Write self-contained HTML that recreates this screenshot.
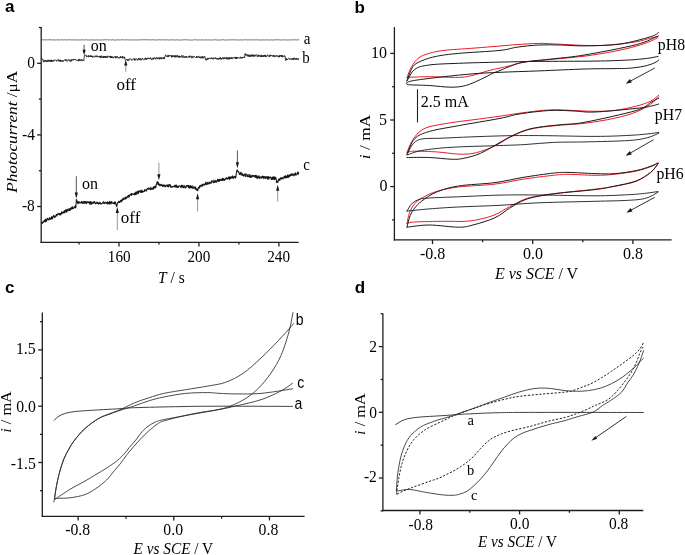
<!DOCTYPE html>
<html><head><meta charset="utf-8"><style>
html,body{margin:0;padding:0;background:#fff;}
body{width:685px;height:555px;overflow:hidden;position:relative;}
svg{position:absolute;left:0;top:0;will-change:transform;}
</style></head><body>
<svg width="685" height="555" viewBox="0 0 685 555">
<rect width="685" height="555" fill="#fff"/>
<g transform="translate(9.95,7.00) scale(1,1.0000)"><text x="-5.00" y="4.50" style="font-family:'Liberation Sans',sans-serif;font-size:17.00px;font-weight:bold">a</text></g>
<g transform="translate(359.95,6.65) scale(1,1.0000)"><text x="-5.38" y="6.00" style="font-family:'Liberation Sans',sans-serif;font-size:17.00px;font-weight:bold">b</text></g>
<g transform="translate(9.80,288.00) scale(1,1.0000)"><text x="-4.88" y="4.50" style="font-family:'Liberation Sans',sans-serif;font-size:17.00px;font-weight:bold">c</text></g>
<g transform="translate(359.75,286.80) scale(1,1.0000)"><text x="-5.00" y="6.00" style="font-family:'Liberation Sans',sans-serif;font-size:17.00px;font-weight:bold">d</text></g>
<g transform="translate(31.05,62.10) scale(1,1.1200)"><text x="-3.88" y="5.00" style="font-family:'Liberation Serif',serif;font-size:15.50px;font-weight:normal">0</text></g>
<g transform="translate(28.60,133.90) scale(1,1.1200)"><text x="-6.62" y="5.12" style="font-family:'Liberation Serif',serif;font-size:15.50px;font-weight:normal">-4</text></g>
<g transform="translate(28.30,205.60) scale(1,1.1200)"><text x="-6.38" y="5.00" style="font-family:'Liberation Serif',serif;font-size:15.50px;font-weight:normal">-8</text></g>
<g transform="translate(119.60,256.40) scale(1,1.1400)"><text x="-11.75" y="5.00" style="font-family:'Liberation Serif',serif;font-size:15.20px;font-weight:normal">160</text></g>
<g transform="translate(199.00,256.40) scale(1,1.1400)"><text x="-11.50" y="5.00" style="font-family:'Liberation Serif',serif;font-size:15.20px;font-weight:normal">200</text></g>
<g transform="translate(278.75,256.40) scale(1,1.1400)"><text x="-11.50" y="5.00" style="font-family:'Liberation Serif',serif;font-size:15.20px;font-weight:normal">240</text></g>
<g transform="translate(13.80,131.85) scale(1,1.1500) rotate(-90)"><text x="-53.00" y="3.62" style="font-family:'Liberation Serif',serif;font-size:15.00px;font-weight:normal"><tspan font-style="italic">Photocurrent</tspan> /&#956;A</text></g>
<g transform="translate(171.70,277.35) scale(1,1.1200)"><text x="-13.62" y="5.00" style="font-family:'Liberation Serif',serif;font-size:15.50px;font-weight:normal"><tspan font-style="italic">T</tspan> / s</text></g>
<g transform="translate(307.30,40.45) scale(1,1.1200)"><text x="-3.50" y="3.38" style="font-family:'Liberation Serif',serif;font-size:15.00px;font-weight:normal">a</text></g>
<g transform="translate(305.70,57.75) scale(1,1.1200)"><text x="-3.50" y="5.12" style="font-family:'Liberation Serif',serif;font-size:15.00px;font-weight:normal">b</text></g>
<g transform="translate(306.50,166.40) scale(1,1.1200)"><text x="-3.38" y="3.38" style="font-family:'Liberation Serif',serif;font-size:15.00px;font-weight:normal">c</text></g>
<g transform="translate(98.75,47.35) scale(1,1.0200)"><text x="-8.12" y="3.62" style="font-family:'Liberation Serif',serif;font-size:16.00px;font-weight:normal">on</text></g>
<g transform="translate(126.55,84.00) scale(1,0.9500)"><text x="-10.12" y="5.88" style="font-family:'Liberation Serif',serif;font-size:17.00px;font-weight:normal">off</text></g>
<g transform="translate(90.20,185.55) scale(1,1.0200)"><text x="-8.12" y="3.62" style="font-family:'Liberation Serif',serif;font-size:16.00px;font-weight:normal">on</text></g>
<g transform="translate(130.90,217.45) scale(1,1.0000)"><text x="-10.12" y="5.88" style="font-family:'Liberation Serif',serif;font-size:17.00px;font-weight:normal">off</text></g>
<g transform="translate(379.45,52.85) scale(1,1.0300)"><text x="-8.50" y="5.25" style="font-family:'Liberation Serif',serif;font-size:16.00px;font-weight:normal">10</text></g>
<g transform="translate(383.20,120.05) scale(1,1.0000)"><text x="-4.25" y="5.12" style="font-family:'Liberation Serif',serif;font-size:16.00px;font-weight:normal">5</text></g>
<g transform="translate(383.50,185.65) scale(1,1.0300)"><text x="-4.00" y="5.25" style="font-family:'Liberation Serif',serif;font-size:16.00px;font-weight:normal">0</text></g>
<g transform="translate(432.50,253.80) scale(1,1.0500)"><text x="-12.62" y="5.25" style="font-family:'Liberation Serif',serif;font-size:16.00px;font-weight:normal">-0.8</text></g>
<g transform="translate(532.95,253.85) scale(1,1.0500)"><text x="-10.00" y="5.25" style="font-family:'Liberation Serif',serif;font-size:16.00px;font-weight:normal">0.0</text></g>
<g transform="translate(632.95,253.85) scale(1,1.0500)"><text x="-10.00" y="5.25" style="font-family:'Liberation Serif',serif;font-size:16.00px;font-weight:normal">0.8</text></g>
<g transform="translate(365.35,136.50) scale(1,1.1200) rotate(-90)"><text x="-20.38" y="5.00" style="font-family:'Liberation Serif',serif;font-size:15.60px;font-weight:normal"><tspan font-style="italic">i</tspan> / mA</text></g>
<g transform="translate(536.25,273.40) scale(1,1.0300)"><text x="-41.38" y="5.12" style="font-family:'Liberation Serif',serif;font-size:16.00px;font-weight:normal"><tspan font-style="italic">E vs SCE</tspan> / V</text></g>
<g transform="translate(445.15,101.85) scale(1,1.0000)"><text x="-24.38" y="5.12" style="font-family:'Liberation Serif',serif;font-size:16.00px;font-weight:normal">2.5 mA</text></g>
<g transform="translate(671.23,46.10) scale(1,1.1200)"><text x="-13.38" y="3.50" style="font-family:'Liberation Serif',serif;font-size:15.80px;font-weight:normal">pH8</text></g>
<g transform="translate(668.35,116.20) scale(1,1.1200)"><text x="-13.50" y="3.38" style="font-family:'Liberation Serif',serif;font-size:15.80px;font-weight:normal">pH7</text></g>
<g transform="translate(669.90,175.40) scale(1,1.1200)"><text x="-13.50" y="3.50" style="font-family:'Liberation Serif',serif;font-size:15.80px;font-weight:normal">pH6</text></g>
<g transform="translate(26.35,348.55) scale(1,1.1200)"><text x="-10.38" y="5.12" style="font-family:'Liberation Serif',serif;font-size:15.80px;font-weight:normal">1.5</text></g>
<g transform="translate(26.10,405.90) scale(1,1.1200)"><text x="-9.88" y="5.12" style="font-family:'Liberation Serif',serif;font-size:15.80px;font-weight:normal">0.0</text></g>
<g transform="translate(23.35,463.65) scale(1,1.1200)"><text x="-12.50" y="5.12" style="font-family:'Liberation Serif',serif;font-size:15.80px;font-weight:normal">-1.5</text></g>
<g transform="translate(77.65,529.60) scale(1,1.1200)"><text x="-12.50" y="5.12" style="font-family:'Liberation Serif',serif;font-size:15.80px;font-weight:normal">-0.8</text></g>
<g transform="translate(173.25,529.35) scale(1,1.1200)"><text x="-9.88" y="5.12" style="font-family:'Liberation Serif',serif;font-size:15.80px;font-weight:normal">0.0</text></g>
<g transform="translate(268.50,529.35) scale(1,1.1200)"><text x="-9.88" y="5.12" style="font-family:'Liberation Serif',serif;font-size:15.80px;font-weight:normal">0.8</text></g>
<g transform="translate(5.75,411.60) scale(1,1.0900) rotate(-90)"><text x="-19.50" y="4.88" style="font-family:'Liberation Serif',serif;font-size:15.00px;font-weight:normal"><tspan font-style="italic">i</tspan> / mA</text></g>
<g transform="translate(173.20,548.78) scale(1,1.1200)"><text x="-39.62" y="5.00" style="font-family:'Liberation Serif',serif;font-size:15.30px;font-weight:normal"><tspan font-style="italic">E vs SCE</tspan> / V</text></g>
<g transform="translate(299.90,319.35) scale(1,1.1200)"><text x="-4.12" y="5.00" style="font-family:'Liberation Sans',sans-serif;font-size:14.00px;font-weight:normal">b</text></g>
<g transform="translate(300.70,384.40) scale(1,1.1200)"><text x="-3.50" y="3.62" style="font-family:'Liberation Sans',sans-serif;font-size:14.00px;font-weight:normal">c</text></g>
<g transform="translate(298.50,404.80) scale(1,1.1200)"><text x="-4.12" y="3.62" style="font-family:'Liberation Sans',sans-serif;font-size:14.00px;font-weight:normal">a</text></g>
<g transform="translate(373.15,346.60) scale(1,1.0400)"><text x="-3.88" y="5.12" style="font-family:'Liberation Serif',serif;font-size:15.50px;font-weight:normal">2</text></g>
<g transform="translate(373.15,412.40) scale(1,1.0400)"><text x="-3.88" y="5.00" style="font-family:'Liberation Serif',serif;font-size:15.50px;font-weight:normal">0</text></g>
<g transform="translate(370.20,477.05) scale(1,1.0600)"><text x="-6.25" y="5.12" style="font-family:'Liberation Serif',serif;font-size:15.50px;font-weight:normal">-2</text></g>
<g transform="translate(420.85,524.35) scale(1,1.1200)"><text x="-12.25" y="5.00" style="font-family:'Liberation Serif',serif;font-size:15.50px;font-weight:normal">-0.8</text></g>
<g transform="translate(519.70,523.85) scale(1,1.1200)"><text x="-9.62" y="5.00" style="font-family:'Liberation Serif',serif;font-size:15.50px;font-weight:normal">0.0</text></g>
<g transform="translate(618.55,523.85) scale(1,1.1200)"><text x="-9.62" y="5.00" style="font-family:'Liberation Serif',serif;font-size:15.50px;font-weight:normal">0.8</text></g>
<g transform="translate(360.25,413.65) scale(1,1.1200) rotate(-90)"><text x="-19.00" y="4.75" style="font-family:'Liberation Serif',serif;font-size:14.60px;font-weight:normal"><tspan font-style="italic">i</tspan> / mA</text></g>
<g transform="translate(517.25,542.05) scale(1,1.0300)"><text x="-39.25" y="4.88" style="font-family:'Liberation Serif',serif;font-size:15.20px;font-weight:normal"><tspan font-style="italic">E vs SCE</tspan> / V</text></g>
<g transform="translate(470.75,421.30) scale(1,1.0600)"><text x="-3.38" y="3.25" style="font-family:'Liberation Serif',serif;font-size:14.50px;font-weight:normal">a</text></g>
<g transform="translate(470.40,470.40) scale(1,1.0000)"><text x="-3.38" y="4.88" style="font-family:'Liberation Serif',serif;font-size:14.50px;font-weight:normal">b</text></g>
<g transform="translate(474.20,496.95) scale(1,1.0000)"><text x="-3.25" y="3.25" style="font-family:'Liberation Serif',serif;font-size:14.50px;font-weight:normal">c</text></g>
<line x1="41.20" y1="27.00" x2="41.20" y2="242.95" stroke="#1e1e1e" stroke-width="1.3" />
<line x1="40.55" y1="242.30" x2="298.70" y2="242.30" stroke="#1e1e1e" stroke-width="1.3" />
<line x1="37.10" y1="63.30" x2="41.20" y2="63.30" stroke="#1e1e1e" stroke-width="1.3" />
<line x1="37.10" y1="134.90" x2="41.20" y2="134.90" stroke="#1e1e1e" stroke-width="1.3" />
<line x1="37.10" y1="206.50" x2="41.20" y2="206.50" stroke="#1e1e1e" stroke-width="1.3" />
<line x1="38.90" y1="27.50" x2="41.20" y2="27.50" stroke="#1e1e1e" stroke-width="1.3" />
<line x1="38.90" y1="99.10" x2="41.20" y2="99.10" stroke="#1e1e1e" stroke-width="1.3" />
<line x1="38.90" y1="170.70" x2="41.20" y2="170.70" stroke="#1e1e1e" stroke-width="1.3" />
<line x1="119.00" y1="242.30" x2="119.00" y2="246.50" stroke="#1e1e1e" stroke-width="1.3" />
<line x1="198.95" y1="242.30" x2="198.95" y2="246.50" stroke="#1e1e1e" stroke-width="1.3" />
<line x1="278.90" y1="242.30" x2="278.90" y2="246.50" stroke="#1e1e1e" stroke-width="1.3" />
<line x1="79.02" y1="242.30" x2="79.02" y2="244.60" stroke="#1e1e1e" stroke-width="1.3" />
<line x1="158.98" y1="242.30" x2="158.98" y2="244.60" stroke="#1e1e1e" stroke-width="1.3" />
<line x1="238.93" y1="242.30" x2="238.93" y2="244.60" stroke="#1e1e1e" stroke-width="1.3" />
<path d="M42.00,39.84 L42.80,39.77 L43.60,39.95 L44.40,39.75 L45.20,39.91 L46.00,39.85 L46.80,39.74 L47.60,39.90 L48.40,39.73 L49.20,39.88 L50.00,39.75 L50.80,39.75 L51.60,39.87 L52.40,40.02 L53.20,39.76 L54.00,39.80 L54.80,39.95 L55.60,40.06 L56.40,39.93 L57.20,39.86 L58.00,40.07 L58.80,39.74 L59.60,40.03 L60.40,39.82 L61.20,39.77 L62.00,39.76 L62.80,39.83 L63.60,40.01 L64.40,39.79 L65.20,39.93 L66.00,39.95 L66.80,39.85 L67.60,39.92 L68.40,39.74 L69.20,39.74 L70.00,39.79 L70.80,39.96 L71.60,39.87 L72.40,39.83 L73.20,39.93 L74.00,39.88 L74.80,39.83 L75.60,40.01 L76.40,39.97 L77.20,39.81 L78.00,39.93 L78.80,39.91 L79.60,40.04 L80.40,39.98 L81.20,39.82 L82.00,40.07 L82.80,39.76 L83.60,39.87 L84.40,39.99 L85.20,39.77 L86.00,39.90 L86.80,39.73 L87.60,39.96 L88.40,40.00 L89.20,39.93 L90.00,40.04 L90.80,39.83 L91.60,39.97 L92.40,39.93 L93.20,39.93 L94.00,39.88 L94.80,40.02 L95.60,40.06 L96.40,39.89 L97.20,39.96 L98.00,39.74 L98.80,39.97 L99.60,39.95 L100.40,40.08 L101.20,40.02 L102.00,39.82 L102.80,39.86 L103.60,39.96 L104.40,39.73 L105.20,39.89 L106.00,39.78 L106.80,39.76 L107.60,39.74 L108.40,40.00 L109.20,39.77 L110.00,39.81 L110.80,39.86 L111.60,40.03 L112.40,39.75 L113.20,39.88 L114.00,39.92 L114.80,40.04 L115.60,40.01 L116.40,40.03 L117.20,39.82 L118.00,39.87 L118.80,39.85 L119.60,40.04 L120.40,40.06 L121.20,39.77 L122.00,39.78 L122.80,39.80 L123.60,39.80 L124.40,39.89 L125.20,39.93 L126.00,39.81 L126.80,39.72 L127.60,39.87 L128.40,39.85 L129.20,39.92 L130.00,40.06 L130.80,39.97 L131.60,39.91 L132.40,39.94 L133.20,39.96 L134.00,39.74 L134.80,40.04 L135.60,40.00 L136.40,40.03 L137.20,40.01 L138.00,39.86 L138.80,39.86 L139.60,39.76 L140.40,39.95 L141.20,39.74 L142.00,39.74 L142.80,39.80 L143.60,39.78 L144.40,39.84 L145.20,39.74 L146.00,39.72 L146.80,39.77 L147.60,39.76 L148.40,39.85 L149.20,39.73 L150.00,40.03 L150.80,39.94 L151.60,39.77 L152.40,39.81 L153.20,39.85 L154.00,39.85 L154.80,39.76 L155.60,40.03 L156.40,40.08 L157.20,39.89 L158.00,39.89 L158.80,39.75 L159.60,39.76 L160.40,39.84 L161.20,39.82 L162.00,40.02 L162.80,39.78 L163.60,39.73 L164.40,40.06 L165.20,39.91 L166.00,39.77 L166.80,39.92 L167.60,39.73 L168.40,39.91 L169.20,40.07 L170.00,40.03 L170.80,39.97 L171.60,39.81 L172.40,39.85 L173.20,39.78 L174.00,40.00 L174.80,39.91 L175.60,40.00 L176.40,39.84 L177.20,39.80 L178.00,40.01 L178.80,40.07 L179.60,40.03 L180.40,40.01 L181.20,40.01 L182.00,39.99 L182.80,39.80 L183.60,39.91 L184.40,39.85 L185.20,39.73 L186.00,39.73 L186.80,39.82 L187.60,39.81 L188.40,39.97 L189.20,40.06 L190.00,39.88 L190.80,40.06 L191.60,40.08 L192.40,40.06 L193.20,39.85 L194.00,39.80 L194.80,39.80 L195.60,39.79 L196.40,39.79 L197.20,39.94 L198.00,40.04 L198.80,40.02 L199.60,39.89 L200.40,39.96 L201.20,40.01 L202.00,39.75 L202.80,39.96 L203.60,40.05 L204.40,40.00 L205.20,39.99 L206.00,39.89 L206.80,39.78 L207.60,40.00 L208.40,39.84 L209.20,40.01 L210.00,40.07 L210.80,39.86 L211.60,39.86 L212.40,40.06 L213.20,39.98 L214.00,39.78 L214.80,39.77 L215.60,39.77 L216.40,40.05 L217.20,40.01 L218.00,39.77 L218.80,40.02 L219.60,40.07 L220.40,39.96 L221.20,39.85 L222.00,39.92 L222.80,39.77 L223.60,39.73 L224.40,40.07 L225.20,39.95 L226.00,39.91 L226.80,40.06 L227.60,39.88 L228.40,40.03 L229.20,40.02 L230.00,39.80 L230.80,39.81 L231.60,39.83 L232.40,39.81 L233.20,39.93 L234.00,39.81 L234.80,39.87 L235.60,39.77 L236.40,40.05 L237.20,39.85 L238.00,39.88 L238.80,39.93 L239.60,40.05 L240.40,39.87 L241.20,40.05 L242.00,39.90 L242.80,39.91 L243.60,39.91 L244.40,39.73 L245.20,39.88 L246.00,39.79 L246.80,39.72 L247.60,40.01 L248.40,39.78 L249.20,39.89 L250.00,39.98 L250.80,39.92 L251.60,39.84 L252.40,39.91 L253.20,39.92 L254.00,40.00 L254.80,39.76 L255.60,39.92 L256.40,39.81 L257.20,39.82 L258.00,40.00 L258.80,39.90 L259.60,39.92 L260.40,39.99 L261.20,40.05 L262.00,39.88 L262.80,39.94 L263.60,39.90 L264.40,39.90 L265.20,39.97 L266.00,39.88 L266.80,39.91 L267.60,39.89 L268.40,40.06 L269.20,39.97 L270.00,40.04 L270.80,40.06 L271.60,39.81 L272.40,39.92 L273.20,40.06 L274.00,40.02 L274.80,39.77 L275.60,39.76 L276.40,39.88 L277.20,39.75 L278.00,39.81 L278.80,39.75 L279.60,39.96 L280.40,40.00 L281.20,40.04 L282.00,39.78 L282.80,39.98 L283.60,39.96 L284.40,39.77 L285.20,40.04 L286.00,40.07 L286.80,39.80 L287.60,40.06 L288.40,39.86 L289.20,39.90 L290.00,40.08 L290.80,40.02 L291.60,39.78 L292.40,39.88 L293.20,39.91 L294.00,39.84 L294.80,39.79 L295.60,39.83 L296.40,39.98 L297.20,39.73 L298.00,39.92 L298.80,39.88" fill="none" stroke="#404040" stroke-width="0.75" stroke-linejoin="round" stroke-linecap="round" />
<path d="M41.60,57.49 L41.93,58.55 L42.27,59.55 L42.60,59.63 L43.05,59.30 L43.50,62.12 L43.80,61.66 L44.10,62.07 L44.40,60.07 L44.70,60.44 L45.00,59.91 L45.30,61.61 L45.60,60.43 L45.90,60.10 L46.20,60.77 L46.50,61.89 L46.80,61.67 L47.10,60.38 L47.40,60.12 L47.70,61.89 L48.00,61.08 L48.30,61.37 L48.60,59.96 L48.90,59.88 L49.20,61.33 L49.50,60.72 L49.80,59.90 L50.10,61.89 L50.40,61.18 L50.70,61.56 L51.00,59.91 L51.30,61.68 L51.60,59.86 L51.90,61.68 L52.20,60.74 L52.50,60.47 L52.80,60.95 L53.10,61.81 L53.40,60.29 L53.70,59.96 L54.00,60.87 L54.30,60.20 L54.60,59.90 L54.90,60.01 L55.20,59.75 L55.50,60.10 L55.80,60.34 L56.10,60.32 L56.40,61.36 L56.70,60.28 L57.00,60.75 L57.30,60.01 L57.60,60.39 L57.90,59.63 L58.20,60.16 L58.50,59.61 L58.80,61.26 L59.10,60.83 L59.40,60.00 L59.70,60.65 L60.00,61.70 L60.30,59.78 L60.60,61.41 L60.90,60.51 L61.21,60.65 L61.51,61.42 L61.81,60.39 L62.11,60.64 L62.41,61.05 L62.71,61.72 L63.01,60.24 L63.31,61.35 L63.62,61.05 L63.92,60.88 L64.22,60.34 L64.52,60.20 L64.82,59.51 L65.12,59.68 L65.42,59.53 L65.72,61.06 L66.03,59.94 L66.33,59.71 L66.63,59.52 L66.93,61.25 L67.23,61.31 L67.53,60.84 L67.83,59.94 L68.13,59.83 L68.44,59.94 L68.74,60.31 L69.04,59.61 L69.34,60.26 L69.64,59.83 L69.94,61.43 L70.24,61.44 L70.54,60.45 L70.85,59.75 L71.15,61.40 L71.45,59.88 L71.75,59.98 L72.05,59.15 L72.35,60.01 L72.65,60.22 L72.95,60.27 L73.26,59.57 L73.56,60.26 L73.86,59.10 L74.16,59.68 L74.46,59.27 L74.76,59.97 L75.06,59.14 L75.36,59.09 L75.67,59.72 L75.97,59.55 L76.27,60.35 L76.57,60.21 L76.87,60.71 L77.17,60.49 L77.47,60.61 L77.77,60.97 L78.08,59.84 L78.38,59.68 L78.68,61.19 L78.98,59.26 L79.28,60.57 L79.58,60.37 L79.88,58.98 L80.18,60.79 L80.49,60.91 L80.79,60.29 L81.09,60.53 L81.39,60.70 L81.69,59.14 L81.99,60.02 L82.29,59.96 L82.59,60.71 L82.90,60.63 L83.20,60.67 L83.50,60.10 L83.80,60.80 L84.10,58.17 L84.40,56.04 L84.75,55.10 L85.10,54.76 L85.45,55.11 L85.80,55.75 L86.15,55.27 L86.50,57.07 L86.80,56.44 L87.11,56.61 L87.41,56.62 L87.71,56.75 L88.02,56.32 L88.32,55.22 L88.62,57.05 L88.93,56.95 L89.23,56.40 L89.53,56.48 L89.84,56.77 L90.14,55.42 L90.44,56.97 L90.75,55.87 L91.05,55.47 L91.35,55.92 L91.66,56.99 L91.96,55.80 L92.26,57.04 L92.57,57.59 L92.87,56.49 L93.17,56.25 L93.48,56.48 L93.78,56.96 L94.08,57.16 L94.39,56.82 L94.69,56.89 L94.99,55.60 L95.30,55.77 L95.60,56.03 L95.90,57.16 L96.20,56.16 L96.51,56.78 L96.81,55.51 L97.11,55.63 L97.42,56.12 L97.72,57.06 L98.02,57.12 L98.33,57.09 L98.63,56.21 L98.93,56.74 L99.24,56.63 L99.54,56.65 L99.84,55.86 L100.15,57.65 L100.45,56.06 L100.75,57.86 L101.06,57.78 L101.36,55.67 L101.66,56.70 L101.97,57.54 L102.27,57.89 L102.57,56.71 L102.88,56.30 L103.18,56.17 L103.48,57.88 L103.79,56.20 L104.09,57.06 L104.39,56.06 L104.70,56.95 L105.00,57.94 L105.30,56.06 L105.60,57.65 L105.90,56.94 L106.21,57.82 L106.51,57.41 L106.81,56.33 L107.11,57.87 L107.41,56.93 L107.71,55.88 L108.02,55.84 L108.32,56.97 L108.62,56.88 L108.92,56.54 L109.22,56.18 L109.52,56.66 L109.82,56.60 L110.13,57.81 L110.43,55.89 L110.73,57.62 L111.03,57.83 L111.33,56.19 L111.63,58.05 L111.94,57.57 L112.24,58.01 L112.54,56.61 L112.84,56.81 L113.14,56.86 L113.44,58.26 L113.74,57.33 L114.05,56.81 L114.35,56.97 L114.65,56.63 L114.95,56.11 L115.25,56.25 L115.55,57.94 L115.86,56.68 L116.16,58.19 L116.46,56.62 L116.76,56.66 L117.06,57.23 L117.36,56.50 L117.66,56.93 L117.97,58.28 L118.27,58.12 L118.57,57.96 L118.87,57.55 L119.17,58.21 L119.47,58.28 L119.78,57.39 L120.08,57.79 L120.38,56.26 L120.68,57.83 L120.98,57.19 L121.28,57.90 L121.58,57.66 L121.89,56.84 L122.19,56.30 L122.49,58.33 L122.79,56.50 L123.09,57.30 L123.39,57.01 L123.70,56.91 L124.00,57.93 L124.30,58.49 L124.60,56.85 L125.00,59.31 L125.40,60.04 L125.75,60.52 L126.10,60.02 L126.45,59.38 L126.80,59.26 L127.15,59.24 L127.50,60.73 L127.80,59.78 L128.10,59.13 L128.41,60.69 L128.71,60.88 L129.01,59.61 L129.31,58.88 L129.61,58.98 L129.91,58.73 L130.22,59.30 L130.52,58.70 L130.82,59.03 L131.12,59.06 L131.42,59.76 L131.72,60.47 L132.03,60.14 L132.33,59.35 L132.63,59.34 L132.93,59.58 L133.23,59.22 L133.53,59.12 L133.84,58.47 L134.14,58.95 L134.44,60.52 L134.74,58.57 L135.04,59.42 L135.34,59.69 L135.65,60.22 L135.95,58.71 L136.25,58.82 L136.55,58.76 L136.85,59.09 L137.16,59.18 L137.46,60.33 L137.76,60.07 L138.06,60.11 L138.36,58.14 L138.66,58.15 L138.97,59.69 L139.27,60.10 L139.57,59.12 L139.87,59.36 L140.17,58.00 L140.47,58.88 L140.78,60.10 L141.08,59.85 L141.38,59.90 L141.68,60.16 L141.98,58.48 L142.28,58.14 L142.59,58.23 L142.89,59.06 L143.19,59.41 L143.49,59.99 L143.79,59.47 L144.09,59.29 L144.40,59.54 L144.70,58.82 L145.00,59.02 L145.30,57.83 L145.61,59.52 L145.91,58.24 L146.21,59.81 L146.52,59.17 L146.82,58.37 L147.12,57.95 L147.42,58.22 L147.73,59.09 L148.03,59.22 L148.33,57.86 L148.64,57.75 L148.94,58.78 L149.24,58.90 L149.55,58.44 L149.85,58.05 L150.15,58.90 L150.45,57.53 L150.76,58.18 L151.06,58.54 L151.36,59.67 L151.67,58.93 L151.97,59.47 L152.27,58.52 L152.58,57.95 L152.88,57.96 L153.18,59.59 L153.48,58.99 L153.79,58.06 L154.09,57.39 L154.39,58.47 L154.70,58.86 L155.00,58.27 L155.30,57.88 L155.61,58.81 L155.91,59.39 L156.21,57.77 L156.52,57.31 L156.82,58.00 L157.12,58.17 L157.42,58.76 L157.73,57.63 L158.03,59.00 L158.33,58.85 L158.64,58.30 L158.94,57.59 L159.24,59.34 L159.55,57.81 L159.85,58.97 L160.15,57.60 L160.45,57.56 L160.76,58.79 L161.06,57.71 L161.36,59.20 L161.67,58.14 L161.97,57.42 L162.27,57.49 L162.58,57.92 L162.88,58.48 L163.18,59.11 L163.48,57.25 L163.79,57.81 L164.09,57.38 L164.39,59.12 L164.70,57.19 L165.00,56.97 L165.35,55.49 L165.70,54.75 L166.00,56.08 L166.30,56.22 L166.60,56.04 L166.90,56.81 L167.20,56.83 L167.50,55.61 L167.80,55.29 L168.10,57.03 L168.41,56.60 L168.71,54.97 L169.01,56.44 L169.31,55.79 L169.61,55.79 L169.91,55.71 L170.22,55.35 L170.52,54.98 L170.82,55.63 L171.12,55.80 L171.42,57.20 L171.72,55.30 L172.03,57.25 L172.33,55.52 L172.63,55.88 L172.93,56.96 L173.23,56.97 L173.53,56.09 L173.84,55.22 L174.14,56.20 L174.44,55.98 L174.74,57.25 L175.04,55.60 L175.34,56.00 L175.65,57.24 L175.95,55.26 L176.25,56.14 L176.55,57.08 L176.85,56.99 L177.16,55.33 L177.46,55.33 L177.76,55.40 L178.06,57.39 L178.36,55.88 L178.66,57.02 L178.97,57.38 L179.27,56.10 L179.57,55.96 L179.87,57.55 L180.17,56.78 L180.47,55.97 L180.78,57.03 L181.08,56.12 L181.38,56.04 L181.68,55.43 L181.98,57.17 L182.28,57.55 L182.59,56.91 L182.89,57.63 L183.19,55.53 L183.49,56.03 L183.79,56.59 L184.09,57.71 L184.40,57.72 L184.70,56.43 L185.00,56.13 L185.30,56.55 L185.61,56.70 L185.91,57.71 L186.21,56.01 L186.52,57.44 L186.82,57.30 L187.12,57.51 L187.42,57.40 L187.73,57.03 L188.03,56.39 L188.33,56.38 L188.64,56.49 L188.94,57.47 L189.24,55.86 L189.55,56.14 L189.85,57.43 L190.15,56.27 L190.45,55.86 L190.76,55.80 L191.06,57.00 L191.36,56.49 L191.67,58.00 L191.97,57.79 L192.27,58.04 L192.58,56.39 L192.88,55.98 L193.18,56.02 L193.48,56.95 L193.79,57.45 L194.09,56.85 L194.39,56.37 L194.70,56.80 L195.00,57.28 L195.30,57.41 L195.61,57.59 L195.91,57.83 L196.21,57.41 L196.52,56.17 L196.82,57.84 L197.12,56.59 L197.42,57.23 L197.73,56.79 L198.03,57.64 L198.33,56.41 L198.64,56.53 L198.94,56.53 L199.24,56.33 L199.55,58.02 L199.85,57.33 L200.15,56.76 L200.45,56.92 L200.76,58.31 L201.06,57.20 L201.36,56.57 L201.67,57.91 L201.97,57.56 L202.27,58.35 L202.58,56.31 L202.88,57.18 L203.18,57.98 L203.48,58.04 L203.79,58.22 L204.09,56.22 L204.39,56.81 L204.70,56.42 L205.00,56.59 L205.35,59.44 L205.70,59.59 L206.00,60.29 L206.30,58.91 L206.60,59.94 L206.90,58.88 L207.20,58.35 L207.50,59.44 L207.80,59.82 L208.10,57.88 L208.41,59.00 L208.71,59.04 L209.01,58.11 L209.31,58.45 L209.61,57.91 L209.91,58.05 L210.22,58.16 L210.52,58.94 L210.82,59.05 L211.12,58.01 L211.42,57.56 L211.72,58.28 L212.03,59.08 L212.33,57.94 L212.63,58.22 L212.93,57.96 L213.23,59.32 L213.53,58.74 L213.84,57.61 L214.14,57.69 L214.44,58.36 L214.74,58.71 L215.04,58.90 L215.34,57.64 L215.65,57.79 L215.95,59.01 L216.25,58.34 L216.55,58.04 L216.85,58.09 L217.16,59.57 L217.46,58.08 L217.76,58.66 L218.06,58.17 L218.36,58.30 L218.66,59.32 L218.97,59.61 L219.27,58.15 L219.57,57.76 L219.87,58.97 L220.17,57.76 L220.47,57.29 L220.78,59.34 L221.08,58.24 L221.38,59.14 L221.68,58.18 L221.98,59.27 L222.28,58.29 L222.59,57.59 L222.89,57.24 L223.19,58.47 L223.49,58.67 L223.79,59.28 L224.09,57.38 L224.40,58.60 L224.70,58.01 L225.00,58.31 L225.30,57.48 L225.61,57.79 L225.91,58.33 L226.21,59.25 L226.52,57.36 L226.82,58.23 L227.12,58.95 L227.43,59.31 L227.73,57.53 L228.03,57.36 L228.33,59.23 L228.64,59.30 L228.94,58.16 L229.24,57.16 L229.55,59.16 L229.85,57.92 L230.15,59.10 L230.46,58.44 L230.76,58.90 L231.06,57.36 L231.37,58.79 L231.67,57.49 L231.97,57.90 L232.28,58.91 L232.58,58.86 L232.88,57.37 L233.18,57.44 L233.49,57.85 L233.79,58.11 L234.09,57.80 L234.40,57.19 L234.70,57.47 L235.00,58.56 L235.31,58.95 L235.61,56.97 L235.91,58.16 L236.22,58.60 L236.52,56.94 L236.82,58.77 L237.12,57.11 L237.43,58.21 L237.73,58.09 L238.03,58.26 L238.34,57.51 L238.64,57.76 L238.94,58.13 L239.25,57.76 L239.55,58.29 L239.85,57.79 L240.16,57.77 L240.46,56.81 L240.76,58.17 L241.07,57.86 L241.37,57.27 L241.67,58.48 L241.97,58.51 L242.28,57.76 L242.58,57.11 L242.88,57.78 L243.19,56.93 L243.49,56.97 L243.79,57.66 L244.10,56.87 L244.40,57.67 L244.75,56.22 L245.10,53.54 L245.42,55.05 L245.73,53.91 L246.05,55.54 L246.37,55.77 L246.68,55.29 L247.00,54.37 L247.30,55.42 L247.60,55.14 L247.90,56.46 L248.20,54.60 L248.50,56.26 L248.80,56.59 L249.10,55.99 L249.40,56.19 L249.70,54.77 L250.00,56.59 L250.30,55.47 L250.60,56.55 L250.90,56.47 L251.20,54.75 L251.50,56.19 L251.80,56.52 L252.10,54.54 L252.40,55.21 L252.70,56.15 L253.00,54.78 L253.30,56.49 L253.60,55.07 L253.90,56.32 L254.20,54.78 L254.50,55.61 L254.80,56.58 L255.10,54.95 L255.40,55.09 L255.70,55.66 L256.00,55.23 L256.30,54.59 L256.60,54.94 L256.90,54.90 L257.20,56.69 L257.50,56.10 L257.80,56.61 L258.10,54.95 L258.40,56.37 L258.70,54.84 L259.00,55.80 L259.30,56.06 L259.60,55.43 L259.90,56.62 L260.20,55.89 L260.50,55.96 L260.80,56.66 L261.10,54.88 L261.40,56.93 L261.70,56.11 L262.00,55.57 L262.30,56.51 L262.60,55.29 L262.90,56.97 L263.20,56.03 L263.50,55.54 L263.80,56.48 L264.10,55.74 L264.40,55.14 L264.70,56.45 L265.00,54.86 L265.30,56.64 L265.60,55.35 L265.90,56.24 L266.21,57.04 L266.51,56.13 L266.81,56.31 L267.11,55.51 L267.41,54.80 L267.71,54.88 L268.02,55.15 L268.32,56.23 L268.62,55.82 L268.92,56.01 L269.22,56.89 L269.52,55.14 L269.82,55.37 L270.13,56.36 L270.43,54.91 L270.73,54.87 L271.03,55.69 L271.33,55.12 L271.63,55.70 L271.93,55.41 L272.24,56.24 L272.54,56.26 L272.84,55.38 L273.14,56.35 L273.44,56.01 L273.74,55.24 L274.05,57.09 L274.35,55.50 L274.65,55.29 L274.95,55.17 L275.25,56.42 L275.55,56.97 L275.85,56.77 L276.16,55.90 L276.46,55.59 L276.76,55.01 L277.06,56.48 L277.36,56.29 L277.66,55.81 L277.97,56.50 L278.27,56.04 L278.57,57.18 L278.87,56.72 L279.17,55.61 L279.47,57.12 L279.77,55.15 L280.08,56.28 L280.38,55.99 L280.68,55.61 L280.98,55.21 L281.28,56.87 L281.58,55.11 L281.88,56.36 L282.19,57.26 L282.49,55.43 L282.79,55.57 L283.09,56.51 L283.39,56.29 L283.69,56.60 L284.00,57.00 L284.30,55.54 L284.60,55.86 L284.90,55.84 L285.20,56.86 L285.50,60.40 L285.80,60.09 L286.10,59.88 L286.40,58.18 L286.70,60.05 L287.00,59.76 L287.31,59.10 L287.62,59.72 L287.92,59.04 L288.23,58.51 L288.54,58.21 L288.85,58.49 L289.16,58.03 L289.46,58.70 L289.77,59.63 L290.08,59.49 L290.39,59.82 L290.69,59.50 L291.00,58.46 L291.31,59.10 L291.62,58.82 L291.93,59.61 L292.23,58.99 L292.54,58.38 L292.85,59.23 L293.16,59.95 L293.47,58.22 L293.77,59.73 L294.08,57.72 L294.39,58.27 L294.70,58.20 L295.01,59.35 L295.31,59.80 L295.62,59.32 L295.93,58.34 L296.24,59.60 L296.54,58.32 L296.85,58.09 L297.16,59.62 L297.47,58.96 L297.78,59.09 L298.08,59.01 L298.39,59.72 L298.70,58.60" fill="none" stroke="#1a1a1a" stroke-width="0.85" stroke-linejoin="round" stroke-linecap="round" />
<path d="M41.60,222.51 L41.93,223.46 L42.27,222.87 L42.60,223.20 L42.94,221.77 L43.27,222.48 L43.61,221.86 L43.94,220.91 L44.28,220.46 L44.61,221.54 L44.95,219.74 L45.28,222.08 L45.62,219.62 L45.95,219.11 L46.29,219.19 L46.62,221.50 L46.96,219.59 L47.29,218.82 L47.62,218.32 L47.96,218.20 L48.29,219.99 L48.63,219.66 L48.96,219.69 L49.30,219.65 L49.63,217.48 L49.97,218.89 L50.30,218.05 L50.64,219.25 L50.97,219.10 L51.31,219.16 L51.64,216.52 L51.98,218.77 L52.31,218.75 L52.64,218.68 L52.98,216.01 L53.31,216.15 L53.65,215.71 L53.98,215.31 L54.32,217.59 L54.65,217.33 L54.99,216.64 L55.32,217.05 L55.66,216.31 L55.99,215.12 L56.33,214.40 L56.66,214.23 L57.00,216.05 L57.33,214.23 L57.67,214.42 L58.00,214.57 L58.34,213.21 L58.67,213.76 L59.01,213.68 L59.34,214.82 L59.68,213.62 L60.02,213.32 L60.35,215.10 L60.69,213.56 L61.02,214.44 L61.36,213.59 L61.69,211.67 L62.03,212.66 L62.37,212.57 L62.70,213.43 L63.04,211.99 L63.37,212.91 L63.71,212.25 L64.05,211.13 L64.38,212.91 L64.72,210.44 L65.05,212.47 L65.39,210.37 L65.72,209.70 L66.06,210.15 L66.40,211.67 L66.73,212.16 L67.07,209.08 L67.40,210.39 L67.74,210.23 L68.08,210.99 L68.41,209.00 L68.75,209.77 L69.08,209.17 L69.42,210.47 L69.75,208.60 L70.09,210.49 L70.43,208.36 L70.76,207.99 L71.10,209.29 L71.43,208.53 L71.77,207.21 L72.11,208.63 L72.44,206.81 L72.78,208.77 L73.11,208.34 L73.45,208.46 L73.78,207.82 L74.12,206.85 L74.46,206.83 L74.79,206.65 L75.13,207.98 L75.46,205.42 L75.80,207.67 L76.40,199.38 L76.85,200.62 L77.30,201.49 L77.63,203.42 L77.97,202.23 L78.30,201.88 L78.64,203.41 L78.97,201.47 L79.30,202.17 L79.64,202.39 L79.97,203.08 L80.31,203.09 L80.64,202.78 L80.97,201.90 L81.31,201.85 L81.64,201.35 L81.97,203.43 L82.31,202.90 L82.64,203.15 L82.98,201.45 L83.31,202.27 L83.64,203.29 L83.98,202.72 L84.31,201.38 L84.65,202.40 L84.98,203.68 L85.31,201.76 L85.65,201.63 L85.98,201.98 L86.32,203.20 L86.65,203.63 L86.98,201.58 L87.32,201.60 L87.65,201.89 L87.99,202.14 L88.32,202.74 L88.65,201.67 L88.99,202.18 L89.32,201.78 L89.66,204.15 L89.99,203.43 L90.32,201.56 L90.66,204.16 L90.99,201.59 L91.33,202.45 L91.66,204.27 L91.99,203.71 L92.33,203.54 L92.66,202.66 L92.99,201.96 L93.33,203.30 L93.66,201.72 L94.00,202.03 L94.33,202.59 L94.66,201.54 L95.00,202.65 L95.33,203.84 L95.67,203.57 L96.00,203.00 L96.33,203.39 L96.66,202.88 L97.00,201.91 L97.33,203.28 L97.66,202.68 L97.99,203.68 L98.33,204.18 L98.66,202.74 L98.99,203.16 L99.32,203.68 L99.65,202.69 L99.99,202.10 L100.32,203.58 L100.65,204.05 L100.98,203.72 L101.32,203.49 L101.65,203.94 L101.98,203.42 L102.31,203.30 L102.64,202.73 L102.98,202.30 L103.31,203.24 L103.64,201.64 L103.97,202.60 L104.31,203.68 L104.64,203.46 L104.97,203.21 L105.30,202.06 L105.63,202.57 L105.97,202.66 L106.30,203.15 L106.63,202.51 L106.96,203.30 L107.29,204.06 L107.63,201.81 L107.96,203.22 L108.29,203.58 L108.62,202.41 L108.96,202.71 L109.29,204.15 L109.62,201.34 L109.95,202.85 L110.28,201.69 L110.62,203.55 L110.95,204.02 L111.28,202.75 L111.61,201.48 L111.95,202.90 L112.28,202.79 L112.61,203.31 L112.94,202.69 L113.27,203.07 L113.61,203.63 L113.94,202.70 L114.27,202.36 L114.60,203.96 L114.94,201.74 L115.27,203.16 L115.60,202.28 L116.00,205.09 L116.40,204.87 L116.80,206.75 L117.20,204.17 L117.60,202.57 L118.00,202.52 L118.33,202.64 L118.67,201.23 L119.00,202.19 L119.33,201.94 L119.67,202.52 L120.00,201.22 L120.33,200.71 L120.67,200.33 L121.00,201.62 L121.33,201.96 L121.67,200.47 L122.00,199.29 L122.33,200.78 L122.67,199.30 L123.00,198.50 L123.33,198.00 L123.67,199.69 L124.00,199.53 L124.33,198.83 L124.67,198.15 L125.00,198.25 L125.33,197.07 L125.67,199.10 L126.00,197.09 L126.33,197.77 L126.67,198.13 L127.00,197.95 L127.33,196.73 L127.67,196.03 L128.00,196.61 L128.33,195.16 L128.67,197.11 L129.00,195.50 L129.33,196.81 L129.67,194.88 L130.00,195.03 L130.33,194.54 L130.67,194.93 L131.00,194.09 L131.33,193.41 L131.67,195.45 L132.00,194.00 L132.33,193.77 L132.67,193.82 L133.00,194.23 L133.33,193.95 L133.67,194.46 L134.00,194.40 L134.33,193.38 L134.67,194.96 L135.00,194.61 L135.33,192.10 L135.67,194.29 L136.00,194.40 L136.33,193.91 L136.67,191.85 L137.00,193.80 L137.33,193.09 L137.67,191.11 L138.00,190.97 L138.33,193.67 L138.67,192.66 L139.00,191.32 L139.33,190.75 L139.67,190.75 L140.00,190.90 L140.34,192.43 L140.67,191.05 L141.01,190.37 L141.35,192.53 L141.68,192.10 L142.02,190.13 L142.36,192.20 L142.70,191.26 L143.03,191.68 L143.37,191.25 L143.71,191.83 L144.04,191.42 L144.38,191.47 L144.72,189.45 L145.05,190.84 L145.39,190.26 L145.73,190.80 L146.07,189.79 L146.40,191.03 L146.74,189.95 L147.08,188.98 L147.41,188.80 L147.75,188.42 L148.09,189.38 L148.42,187.98 L148.76,189.11 L149.10,188.05 L149.43,189.00 L149.77,188.92 L150.11,188.95 L150.45,189.82 L150.78,187.16 L151.12,189.57 L151.46,188.35 L151.79,188.54 L152.13,188.75 L152.47,189.18 L152.80,187.69 L153.14,187.73 L153.48,189.26 L153.82,186.50 L154.15,188.09 L154.49,188.00 L154.83,186.08 L155.16,187.72 L155.50,187.85 L155.90,187.17 L156.30,183.94 L156.70,184.47 L157.10,181.63 L157.47,182.20 L157.85,184.09 L158.22,182.15 L158.60,184.85 L158.94,184.70 L159.28,183.96 L159.62,185.65 L159.96,184.28 L160.30,184.72 L160.64,185.00 L160.98,185.85 L161.32,184.29 L161.66,185.09 L162.00,185.17 L162.33,185.59 L162.67,186.43 L163.00,184.85 L163.33,186.48 L163.67,185.23 L164.00,185.55 L164.33,184.88 L164.67,185.60 L165.00,187.03 L165.33,186.09 L165.67,186.53 L166.00,185.17 L166.33,185.15 L166.67,185.12 L167.00,186.01 L167.33,186.17 L167.67,186.64 L168.00,184.44 L168.33,186.51 L168.67,187.02 L169.00,186.02 L169.33,184.56 L169.67,185.33 L170.00,184.47 L170.33,185.05 L170.67,187.26 L171.00,186.35 L171.33,186.52 L171.67,186.94 L172.00,187.32 L172.33,186.45 L172.67,186.49 L173.00,186.54 L173.33,186.77 L173.67,186.50 L174.00,186.77 L174.33,185.39 L174.67,186.78 L175.00,186.17 L175.34,187.10 L175.67,185.13 L176.00,185.38 L176.34,184.96 L176.68,187.19 L177.01,187.62 L177.34,186.85 L177.68,186.01 L178.02,187.38 L178.35,187.28 L178.69,186.62 L179.02,185.72 L179.35,185.87 L179.69,186.24 L180.03,185.94 L180.36,186.29 L180.69,186.94 L181.03,187.83 L181.37,185.20 L181.70,186.75 L182.03,185.18 L182.37,185.43 L182.71,187.52 L183.04,186.83 L183.38,187.87 L183.71,186.46 L184.05,185.18 L184.38,186.31 L184.72,186.94 L185.05,187.99 L185.38,188.13 L185.72,186.63 L186.06,186.45 L186.39,185.53 L186.72,187.17 L187.06,185.89 L187.40,185.72 L187.73,185.32 L188.06,185.30 L188.40,187.35 L188.74,185.71 L189.09,188.28 L189.43,185.69 L189.77,188.08 L190.11,185.90 L190.46,185.61 L190.80,187.76 L191.14,186.37 L191.49,187.89 L191.83,186.29 L192.17,185.92 L192.51,188.14 L192.86,188.00 L193.20,188.47 L193.54,188.13 L193.89,186.24 L194.23,187.91 L194.57,188.20 L194.91,187.50 L195.26,188.95 L195.60,186.96 L196.00,189.92 L196.40,190.00 L196.80,188.71 L197.20,189.54 L197.56,190.71 L197.92,190.47 L198.28,187.52 L198.64,187.47 L199.00,187.99 L199.33,186.09 L199.67,187.97 L200.00,186.64 L200.33,185.16 L200.67,185.87 L201.00,186.29 L201.33,185.68 L201.67,186.19 L202.00,184.38 L202.33,186.14 L202.67,184.63 L203.00,185.27 L203.33,185.02 L203.67,184.18 L204.00,183.87 L204.33,184.87 L204.67,185.14 L205.00,184.45 L205.33,183.72 L205.66,182.82 L205.99,182.05 L206.33,184.71 L206.66,183.82 L206.99,184.11 L207.32,182.54 L207.65,183.29 L207.98,184.32 L208.32,183.80 L208.65,183.03 L208.98,182.08 L209.31,182.36 L209.64,183.66 L209.97,182.05 L210.31,182.89 L210.64,182.56 L210.97,183.37 L211.30,183.02 L211.63,181.37 L211.96,180.45 L212.29,181.15 L212.63,181.55 L212.96,181.97 L213.29,182.57 L213.62,182.71 L213.95,180.10 L214.28,182.39 L214.62,182.25 L214.95,182.33 L215.28,181.37 L215.61,180.40 L215.94,182.05 L216.27,181.84 L216.61,181.39 L216.94,182.00 L217.27,180.22 L217.60,179.36 L217.94,180.69 L218.27,181.35 L218.61,179.49 L218.94,181.07 L219.28,181.54 L219.61,179.38 L219.95,180.43 L220.28,180.57 L220.62,179.86 L220.95,179.02 L221.29,179.09 L221.62,180.51 L221.96,180.56 L222.29,179.50 L222.63,178.31 L222.96,180.40 L223.30,180.22 L223.63,178.53 L223.97,179.50 L224.30,180.39 L224.64,180.28 L224.97,179.12 L225.31,178.91 L225.64,179.18 L225.98,177.91 L226.31,177.85 L226.65,177.74 L226.98,179.24 L227.32,178.15 L227.65,178.69 L227.99,178.13 L228.32,178.40 L228.66,177.23 L228.99,176.84 L229.33,179.63 L229.66,177.69 L230.00,176.82 L230.34,178.32 L230.68,178.70 L231.02,176.72 L231.36,177.96 L231.71,177.12 L232.05,177.56 L232.39,175.99 L232.73,175.94 L233.07,178.73 L233.41,178.27 L233.75,177.05 L234.09,177.21 L234.44,176.21 L234.78,177.68 L235.12,176.54 L235.46,178.02 L235.80,177.40 L236.20,174.36 L236.60,171.59 L236.95,170.06 L237.30,170.01 L237.65,171.10 L238.00,171.64 L238.33,171.48 L238.67,171.52 L239.00,173.17 L239.33,174.25 L239.67,173.14 L240.00,174.74 L240.33,174.76 L240.67,172.36 L241.00,174.09 L241.33,173.63 L241.67,172.93 L242.00,175.58 L242.33,173.60 L242.67,174.66 L243.00,175.02 L243.34,176.03 L243.68,175.24 L244.01,174.48 L244.35,174.71 L244.69,173.91 L245.03,176.39 L245.36,176.53 L245.70,174.29 L246.04,173.81 L246.38,174.52 L246.71,174.88 L247.05,176.60 L247.39,176.67 L247.72,176.53 L248.06,174.23 L248.40,176.51 L248.74,176.34 L249.08,176.22 L249.41,177.30 L249.75,174.58 L250.09,174.91 L250.43,176.81 L250.76,177.43 L251.10,176.71 L251.44,175.64 L251.78,176.58 L252.11,177.15 L252.45,175.25 L252.79,175.97 L253.12,175.84 L253.46,175.51 L253.80,176.64 L254.13,175.73 L254.46,175.97 L254.79,175.71 L255.12,177.34 L255.45,175.37 L255.78,177.51 L256.11,175.97 L256.44,175.51 L256.77,178.21 L257.10,176.12 L257.43,178.29 L257.76,178.11 L258.09,178.20 L258.42,175.98 L258.75,176.93 L259.08,175.90 L259.42,178.42 L259.75,178.19 L260.08,177.57 L260.41,177.07 L260.74,176.76 L261.07,178.24 L261.40,177.23 L261.73,177.70 L262.06,176.27 L262.39,176.53 L262.72,176.07 L263.05,178.06 L263.38,177.61 L263.71,176.41 L264.04,178.61 L264.37,176.82 L264.70,177.29 L265.03,176.54 L265.36,176.91 L265.69,178.65 L266.02,177.16 L266.35,176.68 L266.68,177.68 L267.01,177.18 L267.34,178.97 L267.67,176.62 L268.00,179.24 L268.33,176.50 L268.66,179.04 L268.99,178.39 L269.32,177.04 L269.65,177.87 L269.98,177.32 L270.32,177.26 L270.65,177.12 L270.98,177.63 L271.31,179.54 L271.64,179.59 L271.97,179.39 L272.30,176.94 L272.63,177.54 L272.96,179.38 L273.29,176.89 L273.62,178.92 L273.95,177.65 L274.28,179.73 L274.61,176.87 L274.94,179.27 L275.27,177.90 L275.60,177.32 L276.03,178.31 L276.47,182.20 L276.90,182.68 L277.24,181.16 L277.58,181.41 L277.92,182.34 L278.26,179.75 L278.60,180.31 L278.94,178.86 L279.27,178.82 L279.61,180.44 L279.95,180.10 L280.28,178.40 L280.62,177.89 L280.96,177.76 L281.29,179.16 L281.63,178.67 L281.97,177.84 L282.31,177.48 L282.64,178.54 L282.98,178.67 L283.32,178.82 L283.65,177.98 L283.99,176.68 L284.33,176.11 L284.66,177.96 L285.00,176.82 L285.33,177.67 L285.67,175.57 L286.00,177.74 L286.34,176.22 L286.67,177.64 L287.00,177.61 L287.34,176.40 L287.67,174.87 L288.01,177.45 L288.34,176.05 L288.68,177.14 L289.01,175.23 L289.34,174.89 L289.68,176.73 L290.01,175.24 L290.35,174.53 L290.68,175.05 L291.01,175.63 L291.35,173.76 L291.68,175.21 L292.02,174.89 L292.35,175.00 L292.69,173.72 L293.02,175.40 L293.35,175.61 L293.69,175.66 L294.02,173.93 L294.36,175.00 L294.69,173.91 L295.02,174.93 L295.36,172.76 L295.69,175.10 L296.03,175.24 L296.36,173.77 L296.70,173.73 L297.03,173.68 L297.36,173.60 L297.70,171.95 L298.03,174.70 L298.37,172.37 L298.70,173.10" fill="none" stroke="#151515" stroke-width="1.05" stroke-linejoin="round" stroke-linecap="round" />
<line x1="84.10" y1="44.70" x2="84.10" y2="50.20" stroke="#444" stroke-width="0.9" />
<path d="M84.10,55.20 L82.50,49.70 L85.70,49.70 Z" fill="#111"/>
<line x1="125.80" y1="71.80" x2="125.80" y2="65.00" stroke="#8a8a8a" stroke-width="0.9" />
<path d="M125.80,60.00 L127.40,65.50 L124.20,65.50 Z" fill="#111"/>
<line x1="76.30" y1="176.20" x2="76.30" y2="193.10" stroke="#444" stroke-width="0.9" />
<path d="M76.30,198.60 L74.70,192.60 L77.90,192.60 Z" fill="#111"/>
<line x1="117.30" y1="230.00" x2="117.30" y2="212.50" stroke="#8a8a8a" stroke-width="0.9" />
<path d="M117.30,207.00 L118.90,213.00 L115.70,213.00 Z" fill="#111"/>
<line x1="158.90" y1="162.60" x2="158.90" y2="174.70" stroke="#8a8a8a" stroke-width="0.9" />
<path d="M158.90,180.20 L157.30,174.20 L160.50,174.20 Z" fill="#111"/>
<line x1="197.60" y1="211.50" x2="197.60" y2="198.80" stroke="#8a8a8a" stroke-width="0.9" />
<path d="M197.60,193.30 L199.20,199.30 L196.00,199.30 Z" fill="#111"/>
<line x1="237.40" y1="150.40" x2="237.40" y2="162.70" stroke="#444" stroke-width="0.9" />
<path d="M237.40,168.20 L235.80,162.20 L239.00,162.20 Z" fill="#111"/>
<line x1="277.70" y1="201.50" x2="277.70" y2="190.20" stroke="#8a8a8a" stroke-width="0.9" />
<path d="M277.70,184.70 L279.30,190.70 L276.10,190.70 Z" fill="#111"/>
<line x1="394.40" y1="27.10" x2="394.40" y2="240.55" stroke="#1e1e1e" stroke-width="1.3" />
<line x1="393.75" y1="239.90" x2="671.60" y2="239.90" stroke="#1e1e1e" stroke-width="1.3" />
<line x1="390.30" y1="186.60" x2="394.40" y2="186.60" stroke="#1e1e1e" stroke-width="1.3" />
<line x1="390.30" y1="120.00" x2="394.40" y2="120.00" stroke="#1e1e1e" stroke-width="1.3" />
<line x1="390.30" y1="53.40" x2="394.40" y2="53.40" stroke="#1e1e1e" stroke-width="1.3" />
<line x1="392.10" y1="219.90" x2="394.40" y2="219.90" stroke="#1e1e1e" stroke-width="1.3" />
<line x1="392.10" y1="153.30" x2="394.40" y2="153.30" stroke="#1e1e1e" stroke-width="1.3" />
<line x1="392.10" y1="86.70" x2="394.40" y2="86.70" stroke="#1e1e1e" stroke-width="1.3" />
<line x1="432.50" y1="239.90" x2="432.50" y2="244.10" stroke="#1e1e1e" stroke-width="1.3" />
<line x1="532.70" y1="239.90" x2="532.70" y2="244.10" stroke="#1e1e1e" stroke-width="1.3" />
<line x1="632.90" y1="239.90" x2="632.90" y2="244.10" stroke="#1e1e1e" stroke-width="1.3" />
<line x1="482.60" y1="239.90" x2="482.60" y2="242.20" stroke="#1e1e1e" stroke-width="1.3" />
<line x1="582.80" y1="239.90" x2="582.80" y2="242.20" stroke="#1e1e1e" stroke-width="1.3" />
<line x1="417.50" y1="89.30" x2="417.50" y2="122.40" stroke="#1e1e1e" stroke-width="1.1" />
<path d="M407.00,77.40 C407.78,75.58 409.70,69.78 411.70,66.50 C413.70,63.22 416.08,59.88 419.00,57.70 C421.92,55.52 425.07,54.62 429.20,53.40 C433.33,52.18 436.50,51.27 443.80,50.40 C451.10,49.53 463.63,48.93 473.00,48.20 C482.37,47.47 492.68,46.60 500.00,46.00 C507.32,45.40 510.43,45.03 516.90,44.60 C523.37,44.17 532.72,43.52 538.80,43.40 C544.88,43.28 547.32,43.63 553.40,43.90 C559.48,44.17 568.37,44.72 575.30,45.00 C582.23,45.28 588.52,45.65 595.00,45.60 C601.48,45.55 607.35,45.33 614.20,44.70 C621.05,44.07 630.02,42.90 636.10,41.80 C642.18,40.70 647.05,39.00 650.70,38.10 C654.35,37.20 656.78,36.68 658.00,36.40" fill="none" stroke="#ec1c24" stroke-width="1.0" stroke-linejoin="round" stroke-linecap="round" />
<path d="M658.00,37.40 C656.78,38.02 654.35,39.63 650.70,41.10 C647.05,42.57 642.18,44.50 636.10,46.20 C630.02,47.90 622.72,49.65 614.20,51.30 C605.68,52.95 595.13,54.78 585.00,56.10 C574.87,57.42 563.53,58.20 553.40,59.20 C543.27,60.20 531.50,61.00 524.20,62.10 C516.90,63.20 513.63,64.82 509.60,65.80 C505.57,66.78 503.67,67.15 500.00,68.00 C496.33,68.85 492.10,69.68 487.60,70.90 C483.10,72.12 477.87,74.22 473.00,75.30 C468.13,76.38 465.70,77.17 458.40,77.40 C451.10,77.63 437.77,76.70 429.20,76.70 C420.63,76.70 410.70,77.28 407.00,77.40" fill="none" stroke="#ec1c24" stroke-width="1.0" stroke-linejoin="round" stroke-linecap="round" />
<path d="M407.00,80.50 C408.00,78.17 410.50,69.80 413.00,66.50 C415.50,63.20 418.08,62.40 422.00,60.70 C425.92,59.00 430.43,57.52 436.50,56.30 C442.57,55.08 447.82,54.38 458.40,53.40 C468.98,52.42 490.25,51.43 500.00,50.40 C509.75,49.37 510.43,48.10 516.90,47.20 C523.37,46.30 531.50,45.37 538.80,45.00 C546.10,44.63 553.00,44.85 560.70,45.00 C568.40,45.15 575.12,46.07 585.00,45.90 C594.88,45.73 609.05,45.53 620.00,44.00 C630.95,42.47 644.25,38.65 650.70,36.70 C657.15,34.75 657.37,33.03 658.70,32.30" fill="none" stroke="#1a1a1a" stroke-width="1.0" stroke-linejoin="round" stroke-linecap="round" />
<path d="M658.00,36.00 C654.35,37.45 648.27,41.55 636.10,44.70 C623.93,47.85 598.78,52.55 585.00,54.90 C571.22,57.25 563.53,57.60 553.40,58.80 C543.27,60.00 531.50,60.82 524.20,62.10 C516.90,63.38 513.63,65.10 509.60,66.50 C505.57,67.90 502.70,69.42 500.00,70.50 C497.30,71.58 496.68,71.48 493.40,73.00 C490.12,74.52 484.92,77.52 480.30,79.60 C475.68,81.68 470.58,84.23 465.70,85.50 C460.82,86.77 457.08,87.20 451.00,87.20 C444.92,87.20 436.23,85.92 429.20,85.50 C422.17,85.08 412.50,85.12 408.80,84.70 C405.10,84.28 407.30,83.28 407.00,83.00" fill="none" stroke="#1a1a1a" stroke-width="1.0" stroke-linejoin="round" stroke-linecap="round" />
<path d="M407.00,81.00 C408.27,79.07 410.90,72.07 414.60,69.40 C418.30,66.73 421.90,66.02 429.20,65.00 C436.50,63.98 446.60,63.78 458.40,63.30 C470.20,62.82 486.60,62.42 500.00,62.10 C513.40,61.78 522.97,61.57 538.80,61.40 C554.63,61.23 580.00,61.33 595.00,61.10 C610.00,60.87 620.00,60.47 628.80,60.00 C637.60,59.53 642.93,58.90 647.80,58.30 C652.67,57.70 656.30,56.72 658.00,56.40" fill="none" stroke="#1a1a1a" stroke-width="1.0" stroke-linejoin="round" stroke-linecap="round" />
<path d="M658.80,60.00 C658.07,60.48 656.83,61.87 654.40,62.90 C651.97,63.93 648.33,65.32 644.20,66.20 C640.07,67.08 634.47,67.80 629.60,68.20 C624.73,68.60 622.43,68.47 615.00,68.60 C607.57,68.73 597.70,68.62 585.00,69.00 C572.30,69.38 552.97,70.35 538.80,70.90 C524.63,71.45 510.97,71.82 500.00,72.30 C489.03,72.78 482.37,73.07 473.00,73.80 C463.63,74.53 453.53,75.60 443.80,76.70 C434.07,77.80 420.73,79.43 414.60,80.40 C408.47,81.37 408.27,82.15 407.00,82.50" fill="none" stroke="#1a1a1a" stroke-width="1.0" stroke-linejoin="round" stroke-linecap="round" />
<line x1="654.80" y1="68.00" x2="630.44" y2="81.10" stroke="#1a1a1a" stroke-width="0.9" />
<path d="M625.60,83.70 L629.94,79.10 L631.83,82.62 Z" fill="#1a1a1a"/>
<path d="M407.00,152.20 C407.78,150.45 409.70,145.03 411.70,141.70 C413.70,138.37 416.08,134.68 419.00,132.20 C421.92,129.72 423.85,128.38 429.20,126.80 C434.55,125.22 443.80,123.87 451.10,122.70 C458.40,121.53 464.85,120.88 473.00,119.80 C481.15,118.72 492.68,117.23 500.00,116.20 C507.32,115.17 510.43,114.50 516.90,113.60 C523.37,112.70 532.23,111.43 538.80,110.80 C545.37,110.17 550.22,109.83 556.30,109.80 C562.38,109.77 568.85,110.35 575.30,110.60 C581.75,110.85 588.52,111.32 595.00,111.30 C601.48,111.28 607.35,111.35 614.20,110.50 C621.05,109.65 630.02,107.77 636.10,106.20 C642.18,104.63 646.93,102.93 650.70,101.10 C654.47,99.27 657.37,96.18 658.70,95.20" fill="none" stroke="#ec1c24" stroke-width="1.0" stroke-linejoin="round" stroke-linecap="round" />
<path d="M658.70,96.70 C657.37,97.92 654.47,101.45 650.70,104.00 C646.93,106.55 642.18,109.62 636.10,112.00 C630.02,114.38 622.72,116.43 614.20,118.30 C605.68,120.17 593.92,122.05 585.00,123.20 C576.08,124.35 568.40,124.47 560.70,125.20 C553.00,125.93 544.88,126.63 538.80,127.60 C532.72,128.57 529.07,129.35 524.20,131.00 C519.33,132.65 513.63,135.47 509.60,137.50 C505.57,139.53 503.67,141.28 500.00,143.20 C496.33,145.12 492.10,147.30 487.60,149.00 C483.10,150.70 477.87,152.55 473.00,153.40 C468.13,154.25 464.48,154.35 458.40,154.10 C452.32,153.85 443.80,152.38 436.50,151.90 C429.20,151.42 419.52,151.15 414.60,151.20 C409.68,151.25 408.27,152.03 407.00,152.20" fill="none" stroke="#ec1c24" stroke-width="1.0" stroke-linejoin="round" stroke-linecap="round" />
<path d="M407.00,154.50 C408.27,151.88 410.90,142.63 414.60,138.80 C418.30,134.97 421.90,133.68 429.20,131.50 C436.50,129.32 446.60,127.88 458.40,125.70 C470.20,123.52 490.25,120.28 500.00,118.40 C509.75,116.52 510.43,115.57 516.90,114.40 C523.37,113.23 532.23,112.08 538.80,111.40 C545.37,110.72 550.22,110.35 556.30,110.30 C562.38,110.25 568.85,110.82 575.30,111.10 C581.75,111.38 584.87,112.45 595.00,112.00 C605.13,111.55 626.82,109.37 636.10,108.40 C645.38,107.43 646.93,106.93 650.70,106.20 C654.47,105.47 657.37,104.37 658.70,104.00" fill="none" stroke="#1a1a1a" stroke-width="1.0" stroke-linejoin="round" stroke-linecap="round" />
<path d="M658.70,98.10 C657.37,98.83 654.47,100.43 650.70,102.50 C646.93,104.57 647.05,107.22 636.10,110.50 C625.15,113.78 597.57,119.83 585.00,122.20 C572.43,124.57 568.40,123.87 560.70,124.70 C553.00,125.53 544.88,126.22 538.80,127.20 C532.72,128.18 529.07,128.95 524.20,130.60 C519.33,132.25 513.63,135.13 509.60,137.10 C505.57,139.07 504.88,139.68 500.00,142.40 C495.12,145.12 486.50,150.72 480.30,153.40 C474.10,156.08 467.67,157.53 462.80,158.50 C457.93,159.47 456.70,159.37 451.10,159.20 C445.50,159.03 436.55,157.78 429.20,157.50 C421.85,157.22 410.70,157.50 407.00,157.50" fill="none" stroke="#1a1a1a" stroke-width="1.0" stroke-linejoin="round" stroke-linecap="round" />
<path d="M407.00,154.50 C408.75,152.13 411.37,143.03 417.50,140.30 C423.63,137.57 430.05,138.83 443.80,138.10 C457.55,137.37 484.17,136.32 500.00,135.90 C515.83,135.48 522.97,135.52 538.80,135.60 C554.63,135.68 580.00,136.43 595.00,136.40 C610.00,136.37 620.00,135.82 628.80,135.40 C637.60,134.98 642.82,134.40 647.80,133.90 C652.78,133.40 656.88,132.65 658.70,132.40" fill="none" stroke="#1a1a1a" stroke-width="0.9" stroke-linejoin="round" stroke-linecap="round" />
<path d="M658.70,133.20 C656.88,133.93 652.78,136.38 647.80,137.60 C642.82,138.82 639.27,139.78 628.80,140.50 C618.33,141.22 597.57,141.58 585.00,141.90 C572.43,142.22 563.53,141.95 553.40,142.40 C543.27,142.85 533.93,144.05 524.20,144.60 C514.47,145.15 507.18,145.25 495.00,145.70 C482.82,146.15 463.28,146.50 451.10,147.30 C438.92,148.10 429.25,149.22 421.90,150.50 C414.55,151.78 409.48,154.25 407.00,155.00" fill="none" stroke="#1a1a1a" stroke-width="0.9" stroke-linejoin="round" stroke-linecap="round" />
<line x1="653.60" y1="139.70" x2="630.37" y2="153.06" stroke="#1a1a1a" stroke-width="0.9" />
<path d="M625.60,155.80 L629.80,151.08 L631.80,154.54 Z" fill="#1a1a1a"/>
<path d="M407.00,223.50 C407.42,221.68 408.23,215.88 409.50,212.60 C410.77,209.32 412.53,206.23 414.60,203.80 C416.67,201.37 418.25,200.07 421.90,198.00 C425.55,195.93 430.42,193.23 436.50,191.40 C442.58,189.57 448.65,188.22 458.40,187.00 C468.15,185.78 484.03,185.43 495.00,184.10 C505.97,182.77 514.47,180.47 524.20,179.00 C533.93,177.53 546.10,176.08 553.40,175.30 C560.70,174.52 561.07,174.30 568.00,174.30 C574.93,174.30 587.30,175.30 595.00,175.30 C602.70,175.30 607.35,175.00 614.20,174.30 C621.05,173.60 630.02,172.37 636.10,171.10 C642.18,169.83 647.05,168.05 650.70,166.70 C654.35,165.35 656.78,163.62 658.00,163.00" fill="none" stroke="#ec1c24" stroke-width="1.0" stroke-linejoin="round" stroke-linecap="round" />
<path d="M658.00,163.80 C656.78,165.25 654.35,169.58 650.70,172.50 C647.05,175.42 642.18,178.98 636.10,181.30 C630.02,183.62 621.05,185.08 614.20,186.40 C607.35,187.72 603.92,188.13 595.00,189.20 C586.08,190.27 570.07,191.70 560.70,192.80 C551.33,193.90 544.88,194.70 538.80,195.80 C532.72,196.90 529.07,197.58 524.20,199.40 C519.33,201.22 514.47,204.15 509.60,206.70 C504.73,209.25 499.88,212.63 495.00,214.70 C490.12,216.77 485.18,218.00 480.30,219.10 C475.42,220.20 471.78,220.93 465.70,221.30 C459.62,221.67 452.32,221.18 443.80,221.30 C435.28,221.42 420.73,221.63 414.60,222.00 C408.47,222.37 408.27,223.25 407.00,223.50" fill="none" stroke="#ec1c24" stroke-width="1.0" stroke-linejoin="round" stroke-linecap="round" />
<path d="M407.00,227.00 C407.53,225.08 408.93,218.63 410.20,215.50 C411.47,212.37 412.65,210.63 414.60,208.20 C416.55,205.77 418.25,203.58 421.90,200.90 C425.55,198.22 430.42,194.58 436.50,192.10 C442.58,189.62 448.65,187.58 458.40,186.00 C468.15,184.42 484.03,184.07 495.00,182.60 C505.97,181.13 514.47,178.78 524.20,177.20 C533.93,175.62 546.10,173.90 553.40,173.10 C560.70,172.30 561.07,172.32 568.00,172.40 C574.93,172.48 587.30,173.38 595.00,173.60 C602.70,173.82 607.35,174.20 614.20,173.70 C621.05,173.20 630.02,171.85 636.10,170.60 C642.18,169.35 647.05,167.47 650.70,166.20 C654.35,164.93 656.78,163.53 658.00,163.00" fill="none" stroke="#1a1a1a" stroke-width="1.0" stroke-linejoin="round" stroke-linecap="round" />
<path d="M658.00,163.80 C656.78,165.22 654.35,169.43 650.70,172.30 C647.05,175.17 642.18,178.68 636.10,181.00 C630.02,183.32 621.05,184.77 614.20,186.20 C607.35,187.63 603.92,188.47 595.00,189.60 C586.08,190.73 570.07,191.90 560.70,193.00 C551.33,194.10 544.88,195.02 538.80,196.20 C532.72,197.38 529.07,198.10 524.20,200.10 C519.33,202.10 514.47,205.27 509.60,208.20 C504.73,211.13 501.10,214.90 495.00,217.70 C488.90,220.50 479.10,223.42 473.00,225.00 C466.90,226.58 465.70,227.20 458.40,227.20 C451.10,227.20 437.77,225.00 429.20,225.00 C420.63,225.00 410.70,226.83 407.00,227.20" fill="none" stroke="#1a1a1a" stroke-width="1.0" stroke-linejoin="round" stroke-linecap="round" />
<path d="M407.00,211.10 C407.78,209.88 409.70,205.75 411.70,203.80 C413.70,201.85 416.08,200.37 419.00,199.40 C421.92,198.43 422.63,198.43 429.20,198.00 C435.77,197.57 446.60,197.28 458.40,196.80 C470.20,196.32 486.60,195.40 500.00,195.10 C513.40,194.80 522.97,194.88 538.80,195.00 C554.63,195.12 580.00,195.85 595.00,195.80 C610.00,195.75 620.25,195.13 628.80,194.70 C637.35,194.27 641.43,193.73 646.30,193.20 C651.17,192.67 656.05,191.78 658.00,191.50" fill="none" stroke="#1a1a1a" stroke-width="0.9" stroke-linejoin="round" stroke-linecap="round" />
<path d="M658.00,192.20 C656.05,193.18 651.17,196.75 646.30,198.10 C641.43,199.45 637.35,199.77 628.80,200.30 C620.25,200.83 610.00,200.88 595.00,201.30 C580.00,201.72 554.63,202.13 538.80,202.80 C522.97,203.47 513.40,204.60 500.00,205.30 C486.60,206.00 470.20,206.40 458.40,207.00 C446.60,207.60 437.77,208.22 429.20,208.90 C420.63,209.58 410.70,210.73 407.00,211.10" fill="none" stroke="#1a1a1a" stroke-width="0.9" stroke-linejoin="round" stroke-linecap="round" />
<line x1="654.80" y1="197.30" x2="631.14" y2="210.09" stroke="#1a1a1a" stroke-width="0.9" />
<path d="M626.30,212.70 L630.63,208.09 L632.53,211.61 Z" fill="#1a1a1a"/>
<line x1="42.30" y1="312.40" x2="42.30" y2="517.05" stroke="#1e1e1e" stroke-width="1.3" />
<line x1="41.65" y1="516.40" x2="304.60" y2="516.40" stroke="#1e1e1e" stroke-width="1.3" />
<line x1="38.20" y1="349.88" x2="42.30" y2="349.88" stroke="#1e1e1e" stroke-width="1.3" />
<line x1="38.20" y1="406.20" x2="42.30" y2="406.20" stroke="#1e1e1e" stroke-width="1.3" />
<line x1="38.20" y1="462.52" x2="42.30" y2="462.52" stroke="#1e1e1e" stroke-width="1.3" />
<line x1="40.00" y1="321.71" x2="42.30" y2="321.71" stroke="#1e1e1e" stroke-width="1.3" />
<line x1="40.00" y1="378.04" x2="42.30" y2="378.04" stroke="#1e1e1e" stroke-width="1.3" />
<line x1="40.00" y1="434.36" x2="42.30" y2="434.36" stroke="#1e1e1e" stroke-width="1.3" />
<line x1="40.00" y1="490.69" x2="42.30" y2="490.69" stroke="#1e1e1e" stroke-width="1.3" />
<line x1="78.12" y1="516.40" x2="78.12" y2="520.40" stroke="#1e1e1e" stroke-width="1.3" />
<line x1="173.80" y1="516.40" x2="173.80" y2="520.40" stroke="#1e1e1e" stroke-width="1.3" />
<line x1="269.48" y1="516.40" x2="269.48" y2="520.40" stroke="#1e1e1e" stroke-width="1.3" />
<line x1="125.96" y1="516.40" x2="125.96" y2="518.70" stroke="#1e1e1e" stroke-width="1.3" />
<line x1="221.64" y1="516.40" x2="221.64" y2="518.70" stroke="#1e1e1e" stroke-width="1.3" />
<path d="M54.00,420.40 C55.00,419.58 57.27,416.87 60.00,415.50 C62.73,414.13 65.93,413.02 70.40,412.20 C74.87,411.38 78.53,411.18 86.80,410.60 C95.07,410.02 112.03,409.18 120.00,408.70 C127.97,408.22 124.60,408.05 134.60,407.70 C144.60,407.35 165.77,406.85 180.00,406.60 C194.23,406.35 201.25,406.23 220.00,406.20 C238.75,406.17 280.42,406.37 292.50,406.40" fill="none" stroke="#2a2a2a" stroke-width="0.9" stroke-linejoin="round" stroke-linecap="round" />
<path d="M54.50,498.70 C54.70,497.33 55.18,493.55 55.70,490.50 C56.22,487.45 56.87,483.77 57.60,480.40 C58.33,477.03 59.05,473.88 60.10,470.30 C61.15,466.72 62.42,462.48 63.90,458.90 C65.38,455.32 67.20,451.95 69.00,448.80 C70.80,445.65 72.03,443.38 74.70,440.00 C77.37,436.62 81.03,432.08 85.00,428.50 C88.97,424.92 94.33,421.00 98.50,418.50 C102.67,416.00 106.42,414.95 110.00,413.50 C113.58,412.05 115.90,411.58 120.00,409.80 C124.10,408.02 129.73,404.82 134.60,402.80 C139.47,400.78 144.33,399.27 149.20,397.70 C154.07,396.13 157.72,394.73 163.80,393.40 C169.88,392.07 178.40,390.92 185.70,389.70 C193.00,388.48 200.95,387.33 207.60,386.10 C214.25,384.87 219.65,384.45 225.60,382.30 C231.55,380.15 237.40,377.25 243.30,373.20 C249.20,369.15 255.12,363.47 261.00,358.00 C266.88,352.53 273.57,345.65 278.60,340.40 C283.63,335.15 288.72,329.32 291.20,326.50 C293.68,323.68 293.12,324.00 293.50,323.50" fill="none" stroke="#2a2a2a" stroke-width="0.85" stroke-linejoin="round" stroke-linecap="round" />
<path d="M293.00,312.60 C292.28,315.97 290.70,325.65 288.70,332.80 C286.70,339.95 283.95,348.80 281.00,355.50 C278.05,362.20 274.77,367.53 271.00,373.00 C267.23,378.47 262.60,384.07 258.40,388.30 C254.20,392.53 250.42,395.45 245.80,398.40 C241.18,401.35 235.33,404.13 230.70,406.00 C226.07,407.87 224.28,408.30 218.00,409.60 C211.72,410.90 201.72,412.00 193.00,413.80 C184.28,415.60 171.47,418.80 165.70,420.40 C159.93,422.00 161.32,421.57 158.40,423.40 C155.48,425.23 151.12,428.85 148.20,431.40 C145.28,433.95 143.33,436.15 140.90,438.70 C138.47,441.25 136.03,443.90 133.60,446.70 C131.17,449.50 128.48,452.70 126.30,455.50 C124.12,458.30 122.52,460.95 120.50,463.50 C118.48,466.05 116.52,468.05 114.20,470.80 C111.88,473.55 109.67,477.03 106.60,480.00 C103.53,482.97 99.40,486.17 95.80,488.60 C92.20,491.03 89.27,493.07 85.00,494.60 C80.73,496.13 74.77,497.18 70.20,497.80 C65.63,498.42 60.22,498.15 57.60,498.30 C54.98,498.45 55.02,498.63 54.50,498.70" fill="none" stroke="#2a2a2a" stroke-width="0.85" stroke-linejoin="round" stroke-linecap="round" />
<path d="M53.80,502.00 C53.92,501.45 54.18,500.62 54.50,498.70 C54.82,496.78 55.18,493.55 55.70,490.50 C56.22,487.45 56.87,483.77 57.60,480.40 C58.33,477.03 59.05,473.88 60.10,470.30 C61.15,466.72 62.42,462.48 63.90,458.90 C65.38,455.32 67.20,451.95 69.00,448.80 C70.80,445.65 72.03,443.38 74.70,440.00 C77.37,436.62 81.03,432.07 85.00,428.50 C88.97,424.93 94.33,421.02 98.50,418.60 C102.67,416.18 106.42,415.37 110.00,414.00 C113.58,412.63 115.90,411.77 120.00,410.40 C124.10,409.03 129.73,407.42 134.60,405.80 C139.47,404.18 144.33,402.17 149.20,400.70 C154.07,399.23 157.72,398.22 163.80,397.00 C169.88,395.78 178.40,394.13 185.70,393.40 C193.00,392.67 201.88,392.60 207.60,392.60 C213.32,392.60 215.32,393.18 220.00,393.40 C224.68,393.62 228.87,393.90 235.70,393.90 C242.53,393.90 251.53,394.25 261.00,393.40 C270.47,392.55 287.25,389.57 292.50,388.80" fill="none" stroke="#2a2a2a" stroke-width="0.85" stroke-linejoin="round" stroke-linecap="round" />
<path d="M292.50,383.30 C290.58,384.57 286.25,388.17 281.00,390.90 C275.75,393.63 268.55,397.18 261.00,399.70 C253.45,402.22 242.53,404.38 235.70,406.00 C228.87,407.62 227.12,408.03 220.00,409.40 C212.88,410.77 202.05,412.57 193.00,414.20 C183.95,415.83 171.95,417.92 165.70,419.20 C159.45,420.48 158.42,420.72 155.50,421.90 C152.58,423.08 150.40,424.72 148.20,426.30 C146.00,427.88 144.37,429.12 142.30,431.40 C140.23,433.68 137.98,437.30 135.80,440.00 C133.62,442.70 131.00,445.43 129.20,447.60 C127.40,449.77 126.97,450.85 125.00,453.00 C123.03,455.15 120.47,457.98 117.40,460.50 C114.33,463.02 110.20,465.75 106.60,468.10 C103.00,470.45 99.40,472.43 95.80,474.60 C92.20,476.77 89.27,478.67 85.00,481.10 C80.73,483.53 75.18,486.17 70.20,489.20 C65.22,492.23 57.62,497.62 55.10,499.30" fill="none" stroke="#2a2a2a" stroke-width="0.85" stroke-linejoin="round" stroke-linecap="round" />
<line x1="382.90" y1="313.50" x2="382.90" y2="511.15" stroke="#1e1e1e" stroke-width="1.3" />
<line x1="382.25" y1="510.50" x2="643.30" y2="510.50" stroke="#1e1e1e" stroke-width="1.3" />
<line x1="378.80" y1="346.60" x2="382.90" y2="346.60" stroke="#1e1e1e" stroke-width="1.3" />
<line x1="378.80" y1="412.30" x2="382.90" y2="412.30" stroke="#1e1e1e" stroke-width="1.3" />
<line x1="378.80" y1="478.00" x2="382.90" y2="478.00" stroke="#1e1e1e" stroke-width="1.3" />
<line x1="380.60" y1="313.75" x2="382.90" y2="313.75" stroke="#1e1e1e" stroke-width="1.3" />
<line x1="380.60" y1="379.45" x2="382.90" y2="379.45" stroke="#1e1e1e" stroke-width="1.3" />
<line x1="380.60" y1="445.15" x2="382.90" y2="445.15" stroke="#1e1e1e" stroke-width="1.3" />
<line x1="380.60" y1="510.85" x2="382.90" y2="510.85" stroke="#1e1e1e" stroke-width="1.3" />
<line x1="419.92" y1="510.50" x2="419.92" y2="514.50" stroke="#1e1e1e" stroke-width="1.3" />
<line x1="519.60" y1="510.50" x2="519.60" y2="514.50" stroke="#1e1e1e" stroke-width="1.3" />
<line x1="619.28" y1="510.50" x2="619.28" y2="514.50" stroke="#1e1e1e" stroke-width="1.3" />
<line x1="469.76" y1="510.50" x2="469.76" y2="512.80" stroke="#1e1e1e" stroke-width="1.3" />
<line x1="569.44" y1="510.50" x2="569.44" y2="512.80" stroke="#1e1e1e" stroke-width="1.3" />
<path d="M395.60,424.60 C397.08,423.78 400.85,420.92 404.50,419.70 C408.15,418.48 411.28,417.97 417.50,417.30 C423.72,416.63 435.55,416.12 441.80,415.70 C448.05,415.28 450.43,415.10 455.00,414.80 C459.57,414.50 461.97,414.25 469.20,413.90 C476.43,413.55 486.60,412.95 498.40,412.70 C510.20,412.45 515.83,412.43 540.00,412.40 C564.17,412.37 626.17,412.48 643.40,412.50" fill="none" stroke="#2a2a2a" stroke-width="0.9" stroke-linejoin="round" stroke-linecap="round" />
<path d="M396.40,491.20 C396.53,489.03 396.80,482.27 397.20,478.20 C397.60,474.13 398.13,470.58 398.80,466.80 C399.47,463.02 400.12,459.28 401.20,455.50 C402.28,451.72 403.67,447.48 405.30,444.10 C406.93,440.72 408.43,438.05 411.00,435.20 C413.57,432.35 416.92,429.30 420.70,427.00 C424.48,424.70 428.83,423.15 433.70,421.40 C438.57,419.65 446.35,417.60 449.90,416.50 C453.45,415.40 450.25,416.45 455.00,414.80 C459.75,413.15 472.57,408.70 478.40,406.60 C484.23,404.50 485.63,403.78 490.00,402.20 C494.37,400.62 499.73,398.80 504.60,397.10 C509.47,395.40 514.33,393.42 519.20,392.00 C524.07,390.58 529.42,389.25 533.80,388.60 C538.18,387.95 541.97,388.02 545.50,388.10 C549.03,388.18 551.75,388.68 555.00,389.10 C558.25,389.52 561.38,390.23 565.00,390.60 C568.62,390.97 572.80,391.30 576.70,391.30 C580.60,391.30 584.38,391.15 588.40,390.60 C592.42,390.05 596.93,389.17 600.80,388.00 C604.67,386.83 608.00,385.40 611.60,383.60 C615.20,381.80 618.80,379.72 622.40,377.20 C626.00,374.68 630.50,370.85 633.20,368.50 C635.90,366.15 636.88,364.82 638.60,363.10 C640.32,361.38 642.68,359.02 643.50,358.20" fill="none" stroke="#2a2a2a" stroke-width="0.85" stroke-linejoin="round" stroke-linecap="round" />
<path d="M643.50,350.70 C643.05,352.05 641.78,356.18 640.80,358.80 C639.82,361.42 638.87,363.70 637.60,366.40 C636.33,369.10 634.83,372.30 633.20,375.00 C631.57,377.70 629.77,379.72 627.80,382.60 C625.83,385.48 624.27,389.32 621.40,392.30 C618.53,395.28 613.75,398.30 610.60,400.50 C607.45,402.70 605.45,403.55 602.50,405.50 C599.55,407.45 596.97,410.37 592.90,412.20 C588.83,414.03 582.73,415.12 578.10,416.50 C573.47,417.88 570.18,419.10 565.10,420.50 C560.02,421.90 553.45,423.25 547.60,424.90 C541.75,426.55 534.42,428.92 530.00,430.40 C525.58,431.88 523.72,432.57 521.10,433.80 C518.48,435.03 516.55,436.12 514.30,437.80 C512.05,439.48 509.85,441.53 507.60,443.90 C505.35,446.27 503.05,449.07 500.80,452.00 C498.55,454.93 496.35,458.33 494.10,461.50 C491.85,464.67 489.57,468.07 487.30,471.00 C485.03,473.93 482.75,476.63 480.50,479.10 C478.25,481.57 476.05,483.78 473.80,485.80 C471.55,487.82 469.25,489.85 467.00,491.20 C464.75,492.55 462.55,493.22 460.30,493.90 C458.05,494.58 456.58,495.15 453.50,495.30 C450.42,495.45 446.45,495.30 441.80,494.80 C437.15,494.30 431.00,493.18 425.60,492.30 C420.20,491.42 414.27,489.68 409.40,489.50 C404.53,489.32 398.57,490.92 396.40,491.20" fill="none" stroke="#2a2a2a" stroke-width="0.85" stroke-linejoin="round" stroke-linecap="round" />
<path d="M396.40,494.40 C396.80,491.70 397.87,483.33 398.80,478.20 C399.73,473.07 400.65,468.20 402.00,463.60 C403.35,459.00 404.87,454.67 406.90,450.60 C408.93,446.53 411.08,442.72 414.20,439.20 C417.32,435.68 421.00,432.47 425.60,429.50 C430.20,426.53 436.90,423.78 441.80,421.40 C446.70,419.02 448.90,417.63 455.00,415.20 C461.10,412.77 472.57,408.80 478.40,406.80 C484.23,404.80 485.63,404.45 490.00,403.20 C494.37,401.95 499.73,400.43 504.60,399.30 C509.47,398.17 513.12,397.25 519.20,396.40 C525.28,395.55 533.47,394.92 541.10,394.20 C548.73,393.48 559.45,392.78 565.00,392.10 C570.55,391.42 571.47,390.97 574.40,390.10 C577.33,389.23 580.00,387.88 582.60,386.90 C585.20,385.92 586.97,385.65 590.00,384.20 C593.03,382.75 597.20,380.37 600.80,378.20 C604.40,376.03 608.00,373.63 611.60,371.20 C615.20,368.77 618.80,366.22 622.40,363.60 C626.00,360.98 630.32,357.92 633.20,355.50 C636.08,353.08 637.98,351.25 639.70,349.10 C641.42,346.95 642.87,343.68 643.50,342.60" fill="none" stroke="#151515" stroke-width="0.95" stroke-linejoin="round" stroke-linecap="round" stroke-dasharray="2.2,1.6" style="stroke-linecap:butt"/>
<path d="M643.00,346.90 C642.45,347.98 640.78,350.88 639.70,353.40 C638.62,355.92 637.75,359.12 636.50,362.00 C635.25,364.88 634.00,367.63 632.20,370.70 C630.40,373.77 628.40,376.80 625.70,380.40 C623.00,384.00 618.95,389.12 616.00,392.30 C613.05,395.48 610.67,397.63 608.00,399.50 C605.33,401.37 602.33,402.42 600.00,403.50 C597.67,404.58 596.33,404.95 594.00,406.00 C591.67,407.05 588.88,408.53 586.00,409.80 C583.12,411.07 580.20,412.32 576.70,413.60 C573.20,414.88 569.85,416.20 565.00,417.50 C560.15,418.80 553.43,419.92 547.60,421.40 C541.77,422.88 536.67,424.67 530.00,426.40 C523.33,428.13 513.58,430.00 507.60,431.80 C501.62,433.60 497.48,435.52 494.10,437.20 C490.72,438.88 489.57,440.00 487.30,441.90 C485.03,443.80 482.75,446.23 480.50,448.60 C478.25,450.97 476.05,453.83 473.80,456.10 C471.55,458.37 469.25,460.40 467.00,462.20 C464.75,464.00 462.55,465.43 460.30,466.90 C458.05,468.37 455.75,469.77 453.50,471.00 C451.25,472.23 449.05,473.18 446.80,474.30 C444.55,475.42 442.80,476.55 440.00,477.70 C437.20,478.85 434.17,479.73 430.00,481.20 C425.83,482.67 419.17,484.98 415.00,486.50 C410.83,488.02 408.10,488.98 405.00,490.30 C401.90,491.62 397.83,493.72 396.40,494.40" fill="none" stroke="#151515" stroke-width="0.95" stroke-linejoin="round" stroke-linecap="round" stroke-dasharray="2.2,1.6" style="stroke-linecap:butt"/>
<line x1="626.40" y1="416.40" x2="595.82" y2="437.57" stroke="#1a1a1a" stroke-width="0.9" />
<path d="M591.30,440.70 L595.27,435.89 L597.20,438.68 Z" fill="#1a1a1a"/>
</svg>
</body></html>
